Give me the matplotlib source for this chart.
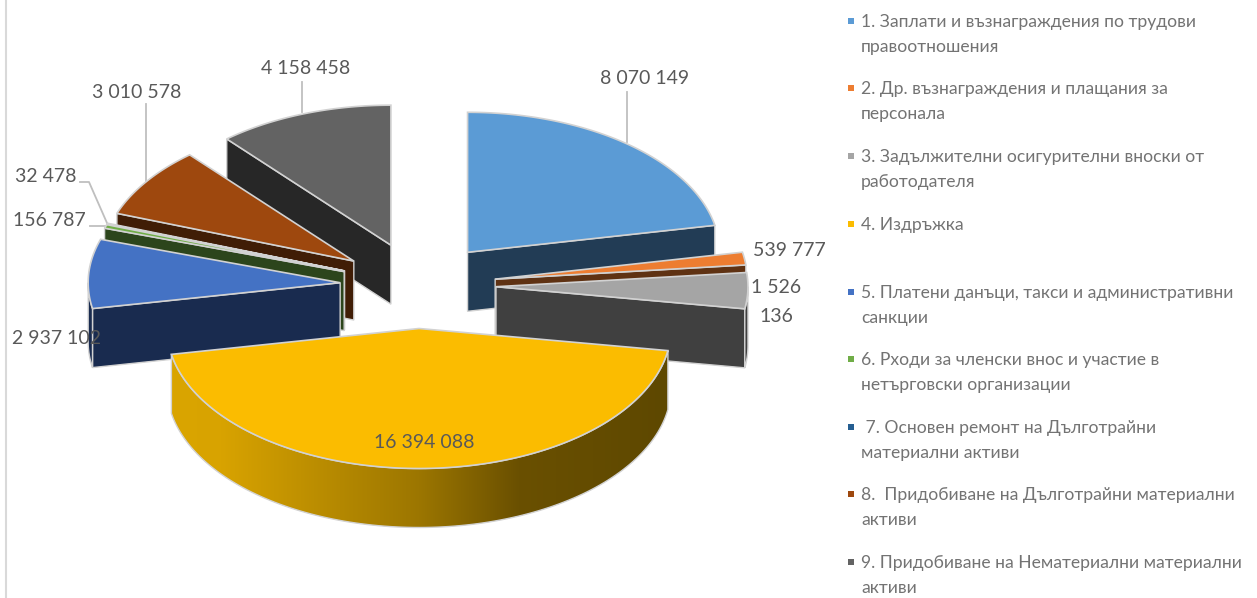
import numpy as np
import matplotlib
matplotlib.use('Agg')
import matplotlib.pyplot as plt
from matplotlib.colors import LinearSegmentedColormap
from matplotlib.patches import Polygon

plt.rcParams['font.family'] = ['Lato', 'Open Sans', 'DejaVu Sans']

values = [8070149, 539777, 1526136, 16394088, 2937102, 156787, 32478, 3010578, 4158458]
top_colors = ['#5B9BD5', '#ED7D31', '#A5A5A5', '#FBBC00', '#4472C4',
              '#70AD47', '#255E91', '#9E480E', '#636363']
side_colors = ['#223C55', '#5F3213', '#404040', '#000000', '#192B4F',
               '#2C451C', '#0F263A', '#401D06', '#272727']
legend_labels = ['1. Заплати и възнаграждения по трудови\nправоотношения',
                 '2. Др. възнаграждения и плащания за\nперсонала',
                 '3. Задължителни осигурителни вноски от\nработодателя',
                 '4. Издръжка',
                 '5. Платени данъци, такси и административни\nсанкции',
                 '6. Рходи за членски внос и участие в\nнетърговски организации',
                 ' 7. Основен ремонт на Дълготрайни\nматериални активи',
                 '8.  Придобиване на Дълготрайни материални\nактиви',
                 '9. Придобиване на Нематериални материални\nактиви']
legend_y = [21, 88, 156, 224, 292, 359, 427, 494, 562]
# where each data label sits
label_pos = [(645, 79), (789, 251), (776, 302), (424, 443), (57, 338),
             (49, 221), (46, 177), (137, 92), (306, 68)]

# pie geometry in pixels
cx, cy = 418, 285.5
rx, ry = 252, 140
ex, ey = 78, 43
depth = 59
edge = '#D2D2D2'


def fmt(v):
    return f'{v:,}'.replace(',', ' ')


def pt(ox, oy, ang):
    return ox + rx * np.sin(ang), oy - ry * np.cos(ang)


fig = plt.figure(figsize=(12.57, 5.98), dpi=100)
ax = fig.add_axes([0, 0, 1, 1])

total = sum(values)
bounds = np.cumsum([0] + values) / total * 2 * np.pi
mids = (bounds[:-1] + bounds[1:]) / 2
z = 2

# back slices first
for i in np.argsort(-np.cos(mids)):
    a, b = bounds[i], bounds[i + 1]
    ox = cx + ex * np.sin(mids[i])
    oy = cy - ey * np.cos(mids[i])

    # radial wall that faces the viewer
    wall = b if b < np.pi else a
    if not (a < np.pi and b > np.pi):
        wx, wy = pt(ox, oy, wall)
        ax.add_patch(Polygon([(ox, oy), (wx, wy), (wx, wy + depth), (ox, oy + depth)],
                             fc=side_colors[i], ec=edge, lw=1, zorder=z))
        z += 1

    # outer rim, only the part between 90 and 270 degrees shows
    lo, hi = max(a, np.pi / 2), min(b, 1.5 * np.pi)
    if hi > lo:
        t = np.linspace(lo, hi, 120)
        x, y = pt(ox, oy, t)
        rim = np.column_stack([np.r_[x, x[::-1]], np.r_[y, y[::-1] + depth]])
        if values[i] == max(values):
            cmap = LinearSegmentedColormap.from_list(
                'rim', [(0, '#DAA500'), (0.1, '#D8A300'), (0.5, '#9C7600'),
                        (0.7, '#6A5000'), (1, '#5E4800')])
            im = ax.imshow(np.linspace(0, 1, 256)[None, :], cmap=cmap, aspect='auto',
                           extent=[x.min(), x.max(), y.max() + depth, y.min()],
                           zorder=z)
            p = Polygon(rim, fc='none', ec=edge, lw=1, zorder=z + 0.5)
            ax.add_patch(p)
            im.set_clip_path(p)
        else:
            ax.add_patch(Polygon(rim, fc=side_colors[i], ec=edge, lw=1, zorder=z))
        z += 1

    # top face
    t = np.linspace(a, b, 120)
    x, y = pt(ox, oy, t)
    ax.add_patch(Polygon(np.column_stack([np.r_[ox, x], np.r_[oy, y]]),
                         fc=top_colors[i], ec=edge, lw=1.2, zorder=z))
    z += 1

# leader lines
line_col = '#BFBFBF'
ax.plot([627, 627], [92, 142], color=line_col, lw=1.3, zorder=1)
ax.plot([146, 146], [104, 182], color=line_col, lw=1.3, zorder=1)
ax.plot([302, 302], [82, 112], color=line_col, lw=1.3, zorder=1)
ax.plot([80, 89, 107], [182, 182, 223], color=line_col, lw=1.3, zorder=1)
ax.plot([90, 106], [226, 226], color=line_col, lw=1.3, zorder=1)

# data labels
for i, v in enumerate(values):
    s = fmt(v)
    if v == 1526136:
        s = '1 526\n136'
    ax.text(label_pos[i][0], label_pos[i][1], s, fontsize=14, color='#595959',
            ha='center', va='center', linespacing=1.88, zorder=z + 1)

# legend
for lab, y0, c in zip(legend_labels, legend_y, top_colors):
    ax.scatter([851], [y0], marker='s', s=24, color=c, linewidths=0, zorder=z)
    ax.text(861, y0 - 7, lab, fontsize=12.6, color='#737373', ha='left', va='top',
            linespacing=1.73, zorder=z)

# left frame edge
ax.plot([6, 6], [0, 598], color='#D9D9D9', lw=1.5, zorder=1)

ax.set_xlim(0, 1257)
ax.set_ylim(598, 0)
ax.axis('off')
fig.savefig('out.png', dpi=100)
